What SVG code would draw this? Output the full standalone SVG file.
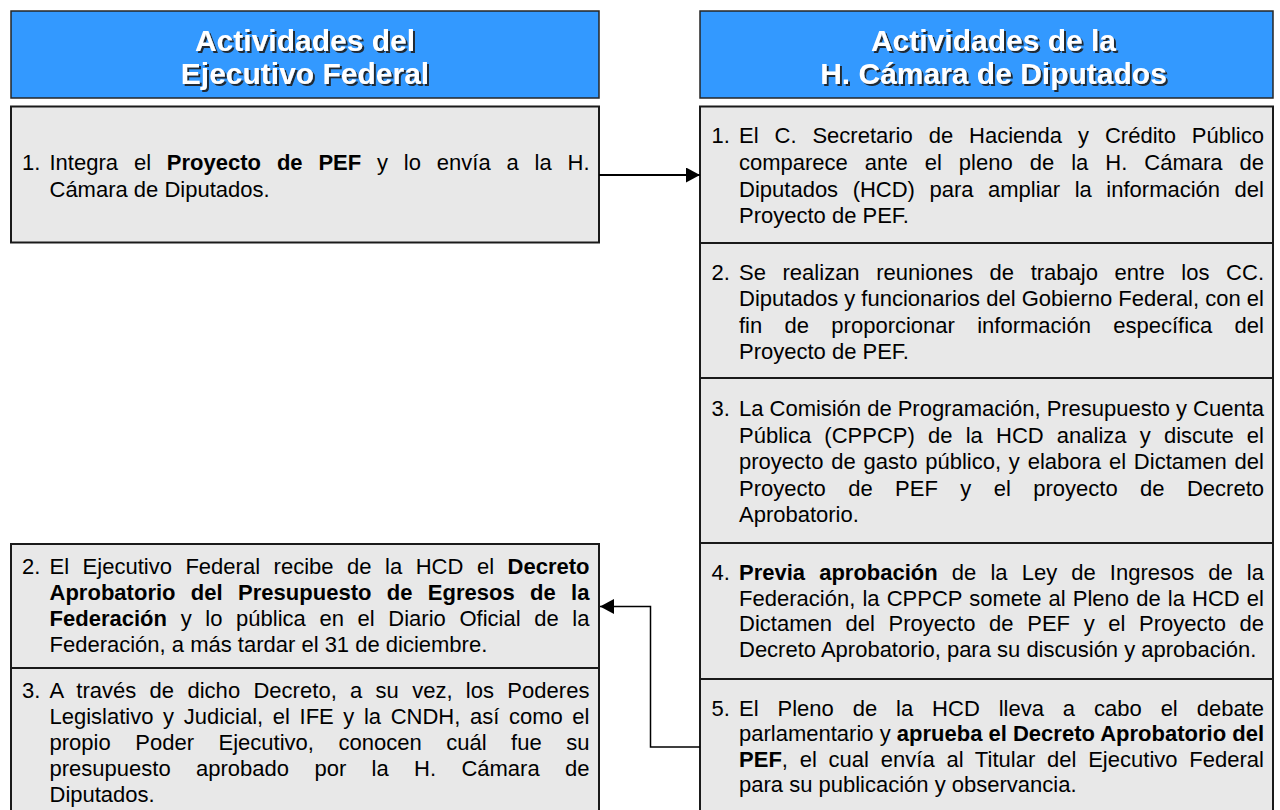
<svg xmlns="http://www.w3.org/2000/svg" width="1280" height="810" viewBox="0 0 1280 810">
<defs>
<style>
.hdr{fill:#3399FF;stroke:#262626;stroke-width:1.5}
.box{fill:#E8E8E8;stroke:#1a1a1a;stroke-width:2}
.t{font-family:"Liberation Sans",Arial,sans-serif;font-size:22px;fill:#000}
.b{font-weight:bold}
.h{font-family:"Liberation Sans",Arial,sans-serif;font-size:30px;font-weight:bold;fill:#fff;text-anchor:middle;filter:url(#sh)}
.c{fill:none;stroke:#000}
</style>
<filter id="sh" x="-5%" y="-30%" width="110%" height="160%">
<feDropShadow dx="2" dy="2" stdDeviation="0.6" flood-color="#1a1a1a" flood-opacity="0.9"/>
</filter>
<marker id="ah" markerUnits="userSpaceOnUse" markerWidth="15" markerHeight="16" refX="14" refY="7.5" orient="auto">
<path d="M0,0 L14,7.5 L0,15 Z" fill="#000"/>
</marker>
</defs>
<rect width="1280" height="810" fill="#fff"/>

<g id="hdr-ejecutivo">
<rect class="hdr" x="11" y="11" width="588" height="87"/>
<text class="h" x="305" y="51">Actividades del</text>
<text class="h" x="305" y="84">Ejecutivo Federal</text>
</g>

<g id="hdr-camara">
<rect class="hdr" x="700" y="11" width="573" height="87"/>
<text class="h" x="993.5" y="51">Actividades de la</text>
<text class="h" x="993.5" y="84">H. Cámara de Diputados</text>
</g>

<g id="ejecutivo-1">
<rect class="box" x="11" y="106.5" width="588" height="136"/>
<text class="t" x="22" y="170">1.</text>
<text class="t" x="49.5" y="170" textLength="540" lengthAdjust="spacing" style="word-spacing:9.7px">Integra el <tspan class="b">Proyecto de PEF</tspan> y lo envía a la H.</text>
<text class="t" x="49.5" y="196.5">Cámara de Diputados.</text>
</g>

<g id="ejecutivo-2">
<rect class="box" x="11" y="544" width="588" height="124"/>
<text class="t" x="22" y="573.5">2.</text>
<text class="t" x="49.5" y="573.5" textLength="540" lengthAdjust="spacing" style="word-spacing:7.4px">El Ejecutivo Federal recibe de la HCD el <tspan class="b">Decreto</tspan></text>
<text class="t b" x="49.5" y="599.5" textLength="540" lengthAdjust="spacing" style="word-spacing:9.2px">Aprobatorio del Presupuesto de Egresos de la</text>
<text class="t" x="49.5" y="625.5" textLength="540" lengthAdjust="spacing" style="word-spacing:7.5px"><tspan class="b">Federación</tspan> y lo pública en el Diario Oficial de la</text>
<text class="t" x="49.5" y="651.5">Federación, a más tardar el 31 de diciembre.</text>
</g>

<g id="ejecutivo-3">
<rect class="box" x="11" y="668" width="588" height="152"/>
<text class="t" x="22" y="698">3.</text>
<text class="t" x="49.5" y="698" textLength="540" lengthAdjust="spacing" style="word-spacing:7.1px">A través de dicho Decreto, a su vez, los Poderes</text>
<text class="t" x="49.5" y="724" textLength="540" lengthAdjust="spacing" style="word-spacing:3.5px">Legislativo y Judicial, el IFE y la CNDH, así como el</text>
<text class="t" x="49.5" y="750" textLength="540" lengthAdjust="spacing" style="word-spacing:18.4px">propio Poder Ejecutivo, conocen cuál fue su</text>
<text class="t" x="49.5" y="776" textLength="540" lengthAdjust="spacing" style="word-spacing:19.2px">presupuesto aprobado por la H. Cámara de</text>
<text class="t" x="49.5" y="802">Diputados.</text>
</g>

<g id="camara-1">
<rect class="box" x="700" y="106.5" width="573" height="136.5"/>
<text class="t" x="711.5" y="143.3">1.</text>
<text class="t" x="739" y="143.3" textLength="525" lengthAdjust="spacing" style="word-spacing:9.8px">El C. Secretario de Hacienda y Crédito Público</text>
<text class="t" x="739" y="170" textLength="525" lengthAdjust="spacing" style="word-spacing:10.9px">comparece ante el pleno de la H. Cámara de</text>
<text class="t" x="739" y="196.6" textLength="525" lengthAdjust="spacing" style="word-spacing:8.4px">Diputados (HCD) para ampliar la información del</text>
<text class="t" x="739" y="223.3">Proyecto de PEF.</text>
</g>

<g id="camara-2">
<rect class="box" x="700" y="243" width="573" height="135"/>
<text class="t" x="711.5" y="279.5">2.</text>
<text class="t" x="739" y="279.5" textLength="525" lengthAdjust="spacing" style="word-spacing:10.5px">Se realizan reuniones de trabajo entre los CC.</text>
<text class="t" x="739" y="306" textLength="525" lengthAdjust="spacing">Diputados y funcionarios del Gobierno Federal, con el</text>
<text class="t" x="739" y="332.5" textLength="525" lengthAdjust="spacing" style="word-spacing:16.2px">fin de proporcionar información específica del</text>
<text class="t" x="739" y="359">Proyecto de PEF.</text>
</g>

<g id="camara-3">
<rect class="box" x="700" y="378" width="573" height="165"/>
<text class="t" x="711.5" y="416">3.</text>
<text class="t" x="739" y="416" textLength="525" lengthAdjust="spacing">La Comisión de Programación, Presupuesto y Cuenta</text>
<text class="t" x="739" y="442.5" textLength="525" lengthAdjust="spacing" style="word-spacing:7.1px">Pública (CPPCP) de la HCD analiza y discute el</text>
<text class="t" x="739" y="469" textLength="525" lengthAdjust="spacing" style="word-spacing:1.7px">proyecto de gasto público, y elabora el Dictamen del</text>
<text class="t" x="739" y="495.5" textLength="525" lengthAdjust="spacing" style="word-spacing:16.3px">Proyecto de PEF y el proyecto de Decreto</text>
<text class="t" x="739" y="522">Aprobatorio.</text>
</g>

<g id="camara-4">
<rect class="box" x="700" y="543" width="573" height="136"/>
<text class="t" x="711.5" y="579.5">4.</text>
<text class="t" x="739" y="579.5" textLength="525" lengthAdjust="spacing" style="word-spacing:8px"><tspan class="b">Previa aprobación</tspan> de la Ley de Ingresos de la</text>
<text class="t" x="739" y="605.5" textLength="525" lengthAdjust="spacing" style="word-spacing:1px">Federación, la CPPCP somete al Pleno de la HCD el</text>
<text class="t" x="739" y="631" textLength="525" lengthAdjust="spacing" style="word-spacing:7.5px">Dictamen del Proyecto de PEF y el Proyecto de</text>
<text class="t" x="739" y="656.5">Decreto Aprobatorio, para su discusión y aprobación.</text>
</g>

<g id="camara-5">
<rect class="box" x="700" y="679" width="573" height="141"/>
<text class="t" x="711.5" y="715.5">5.</text>
<text class="t" x="739" y="715.5" textLength="525" lengthAdjust="spacing" style="word-spacing:12.8px">El Pleno de la HCD lleva a cabo el debate</text>
<text class="t" x="739" y="741" textLength="525" lengthAdjust="spacing">parlamentario y <tspan class="b">aprueba el Decreto Aprobatorio del</tspan></text>
<text class="t" x="739" y="766.5" textLength="525" lengthAdjust="spacing" style="word-spacing:5.6px"><tspan class="b">PEF</tspan>, el cual envía al Titular del Ejecutivo Federal</text>
<text class="t" x="739" y="792">para su publicación y observancia.</text>
</g>

<g id="connectors">
<path class="c" d="M599,175 H700" stroke-width="2" marker-end="url(#ah)"/>
<path class="c" d="M700,747 H650.5 V606.5 H600" stroke-width="1.5" marker-end="url(#ah)"/>
</g>
</svg>
